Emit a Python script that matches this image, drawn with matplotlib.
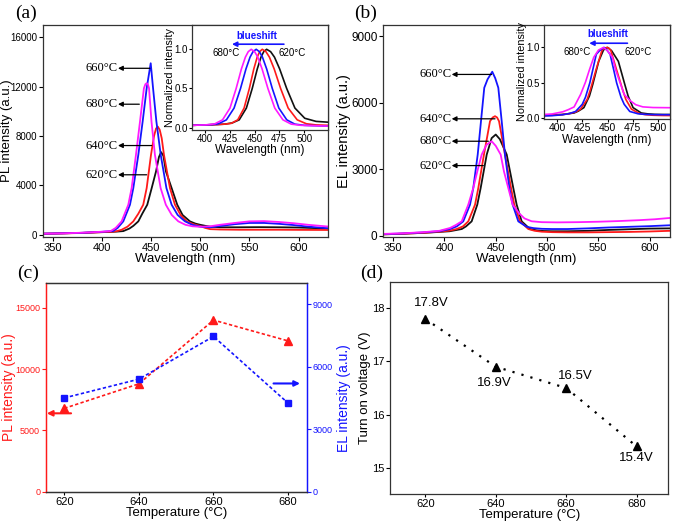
import matplotlib
matplotlib.use("Agg")
import matplotlib.pyplot as plt
import numpy as np

plt.rcParams['font.family'] = ['Liberation Sans', 'DejaVu Sans']
NARROW = ['Liberation Sans Narrow', 'Liberation Sans', 'DejaVu Sans']
SERIF = ['Liberation Serif', 'DejaVu Serif']

BLUE = '#1414ff'
RED = '#ff1a1a'
MAG = '#ff1aff'
BLK = '#111111'

# ---------------- (a) PL spectra ----------------
wl_a_620 = [340, 360, 380, 400, 410, 415, 421.7, 428, 432, 437, 441, 446.1, 450.6, 455, 458, 460.2, 462.5, 465.1, 470.9, 476.6, 482, 489.5, 495, 500, 505, 510, 520, 540, 560, 580, 600, 615, 630]
pl_620 = [80, 110, 150, 210, 230, 250, 290, 500, 720, 1080, 1700, 2428, 3777, 5126, 6300, 6690, 6400, 5126, 3777, 2428, 1600, 1080, 900, 800, 720, 650, 600, 600, 610, 600, 580, 540, 500]

wl_a_640 = [340, 360, 380, 400, 410, 415, 420, 426, 431.9, 437, 442, 445.5, 449.9, 453, 455, 456.8, 458.8, 460.8, 463.1, 469.2, 474.3, 480, 486.2, 493, 500, 505, 510, 520, 540, 560, 580, 600, 630]
pl_640 = [70, 100, 140, 200, 240, 280, 400, 650, 1080, 1700, 2428, 3777, 6474, 8000, 8600, 8766, 8500, 7823, 6474, 3777, 2428, 1600, 1080, 850, 700, 550, 450, 420, 400, 400, 400, 390, 380]

wl_a_660 = [340, 360, 380, 400, 411.5, 416, 421.7, 428.5, 431.9, 437, 441.4, 445.5, 449.6, 452, 455.4, 459.8, 465.6, 470.9, 477, 484.5, 492, 500, 510, 520, 535, 550, 565, 580, 595, 610, 630]
pl_660 = [80, 110, 150, 230, 300, 550, 1080, 2428, 3777, 6474, 9170, 11870, 13900, 11870, 9170, 6474, 3777, 2428, 1600, 1080, 800, 650, 600, 700, 850, 950, 950, 880, 780, 650, 520]

wl_a_680 = [340, 360, 380, 400, 409, 414, 420, 426.8, 430.2, 434.6, 438.7, 442.7, 444.2, 445.5, 446.7, 447.9, 450.4, 453.9, 459.7, 465, 471, 477.7, 485, 492, 500, 510, 520, 535, 550, 565, 580, 595, 610, 630]
pl_680 = [80, 110, 160, 240, 300, 550, 1080, 2428, 3777, 6474, 9170, 11870, 12200, 12280, 12200, 11870, 9170, 6474, 3777, 2428, 1600, 1080, 800, 680, 640, 680, 800, 950, 1080, 1100, 1030, 930, 800, 660]

# inset (a): normalized PL as drawn in the inset
ins_wl_620 = [387, 400, 412, 420, 427.4, 434.6, 441.8, 447.7, 452.8, 456.5, 459.3, 462.2, 466.2, 470.1, 475.3, 482.4, 490.7, 500.6, 512, 524]
ins_pl_620 = [0.03, 0.035, 0.04, 0.045, 0.06, 0.1, 0.25, 0.5, 0.75, 0.9, 0.97, 1.0, 0.97, 0.9, 0.75, 0.5, 0.25, 0.12, 0.08, 0.07]
ins_wl_640 = [387, 400, 412, 420, 426.6, 433.1, 439.5, 444.8, 449.3, 452.7, 455.2, 457.8, 461.5, 465, 469.8, 476.3, 483.9, 493, 502.2, 512, 524]
ins_pl_640 = [0.03, 0.035, 0.04, 0.045, 0.055, 0.1, 0.25, 0.5, 0.75, 0.9, 0.97, 1.0, 0.97, 0.9, 0.75, 0.5, 0.25, 0.1, 0.05, 0.035, 0.03]
ins_wl_660 = [387, 400, 408, 413.8, 421.7, 429.4, 435.9, 441.4, 445.5, 448.5, 451.7, 454.9, 458, 462.2, 467.9, 474.5, 482.5, 490.6, 500, 512, 524]
ins_pl_660 = [0.03, 0.035, 0.04, 0.05, 0.1, 0.25, 0.5, 0.75, 0.9, 0.97, 1.0, 0.97, 0.9, 0.75, 0.5, 0.25, 0.1, 0.045, 0.03, 0.025, 0.02]
ins_wl_680 = [387, 400, 405, 410.2, 417.8, 425.3, 431.5, 436.8, 440.8, 443.7, 446.7, 450.1, 453.3, 457.6, 463.5, 470.4, 478.6, 487, 497, 510, 524]
ins_pl_680 = [0.03, 0.035, 0.04, 0.05, 0.1, 0.25, 0.5, 0.75, 0.9, 0.97, 1.0, 0.97, 0.9, 0.75, 0.5, 0.25, 0.1, 0.045, 0.03, 0.025, 0.02]

# ---------------- (b) EL spectra ----------------
wl_b_620 = [340, 360, 380, 395, 405, 416.8, 421, 426.5, 432, 435.3, 441.2, 446, 450, 454, 460.7, 467.1, 470.4, 475.3, 483.4, 490, 497, 505, 520, 540, 560, 580, 600, 620]
el_620 = [60, 90, 130, 170, 200, 300, 420, 646, 1400, 2154, 3658, 4400, 4561, 4350, 3658, 2154, 1400, 646, 300, 240, 210, 200, 200, 220, 260, 290, 320, 330]

wl_b_640 = [340, 360, 380, 395, 405, 411.9, 418, 423.2, 429.8, 433, 438.5, 444.4, 447, 449.3, 451.3, 453.2, 459, 464.9, 468.1, 473.7, 481.8, 488, 495, 505, 520, 540, 560, 580, 600, 620]
el_640 = [60, 90, 130, 180, 230, 300, 420, 646, 1400, 2154, 3658, 5162, 5330, 5388, 5330, 5162, 3658, 2154, 1400, 646, 300, 220, 180, 160, 150, 150, 160, 170, 190, 220]

wl_b_660 = [340, 360, 380, 395, 405.4, 412, 418.3, 424.9, 428.1, 432.4, 435.6, 438.8, 442, 446.6, 449.5, 452.5, 455.8, 459, 463.3, 466.5, 472, 480.2, 487, 495, 505, 520, 540, 560, 580, 600, 620]
el_660 = [70, 100, 150, 200, 300, 420, 646, 1400, 2154, 3658, 5162, 6670, 7050, 7393, 7100, 6670, 5162, 3658, 2154, 1400, 646, 400, 340, 310, 300, 300, 330, 370, 400, 430, 470]

wl_b_680 = [340, 360, 380, 395, 405.4, 411, 416.8, 423.2, 428.1, 432, 436.3, 441, 446, 450, 454.8, 458, 462.2, 466.5, 473, 478, 485, 495, 510, 530, 550, 570, 590, 605, 620]
el_680 = [80, 110, 160, 220, 348, 480, 646, 1400, 2154, 2900, 3658, 4100, 4259, 4050, 3658, 2900, 2154, 1400, 1000, 780, 650, 610, 600, 610, 630, 660, 700, 740, 800]

# ---------------- (c) peak intensity vs temperature ----------------
temps = [620, 640, 660, 680]
pl_peak = [6800, 8800, 14000, 12300]
el_peak = [4500, 5400, 7450, 4250]

# ---------------- (d) turn-on voltage ----------------
von = [17.8, 16.9, 16.5, 15.4]
von_labels = ['17.8V', '16.9V', '16.5V', '15.4V']

fig = plt.figure(figsize=(6.75, 5.23), dpi=100)
ax_a = fig.add_axes([0.0637, 0.5468, 0.4222, 0.4054])
ax_b = fig.add_axes([0.5674, 0.5468, 0.4252, 0.4054])
ax_c = fig.add_axes([0.0677, 0.0599, 0.3867, 0.3984])
ax_d = fig.add_axes([0.5778, 0.0549, 0.4123, 0.4065])
ins_a = fig.add_axes([0.2844, 0.7514, 0.2015, 0.2008])
ins_b = fig.add_axes([0.806, 0.7725, 0.1867, 0.1797])

def style(ax, tsize=8):
    ax.tick_params(direction='out', length=3, width=0.8, labelsize=tsize, pad=1)
    for s in ax.spines.values():
        s.set_linewidth(0.9)
        s.set_color('#333333')

def narrow_ticks(ax, axis, size):
    labs = ax.get_yticklabels() if axis == 'y' else ax.get_xticklabels()
    for t in labs:
        t.set_family(NARROW)
        t.set_fontsize(size)

series_a = [(wl_a_620, pl_620, BLK), (wl_a_640, pl_640, RED), (wl_a_660, pl_660, BLUE), (wl_a_680, pl_680, MAG)]
series_b = [(wl_b_620, el_620, BLK), (wl_b_640, el_640, RED), (wl_b_660, el_660, BLUE), (wl_b_680, el_680, MAG)]
series_ia = [(ins_wl_620, ins_pl_620, BLK), (ins_wl_640, ins_pl_640, RED), (ins_wl_660, ins_pl_660, BLUE), (ins_wl_680, ins_pl_680, MAG)]

for w, v, c in series_a:
    ax_a.plot(w, v, color=c, lw=1.3)
for w, v, c in series_ia:
    ins_a.plot(w, v, color=c, lw=1.2)
for w, v, c in series_b:
    ax_b.plot(w, v, color=c, lw=1.3)
    v = np.asarray(v, float)
    ins_b.plot(w, v / v.max(), color=c, lw=1.2)

# (a)
style(ax_a)
ax_a.set_xlim(340, 630)
ax_a.set_ylim(-190, 17000)
ax_a.set_xticks([350, 400, 450, 500, 550, 600])
ax_a.set_yticks([0, 4000, 8000, 12000, 16000])
narrow_ticks(ax_a, 'y', 7)
ax_a.set_xlabel('Wavelength (nm)', fontsize=9.5)
ax_a.set_ylabel('PL intensity (a.u.)', fontsize=9.5)
ax_a.xaxis.set_label_coords(0.5, -0.074)
ax_a.yaxis.set_label_coords(-0.106, 0.5)

ann_a = [('660°C', 13490, 448.8), ('680°C', 10578, 438.0), ('640°C', 7227, 450.6), ('620°C', 4856, 445.5)]
for lab, y, xt in ann_a:
    ax_a.annotate('', xy=(416.3, y), xytext=(xt, y),
                  arrowprops=dict(arrowstyle='-|>', color='black', lw=0.9, mutation_scale=7, shrinkA=0, shrinkB=0))
    ax_a.text(416.0, y, lab, ha='right', va='center', fontsize=9, family=SERIF)

# (b)
style(ax_b)
ax_b.set_xlim(340, 620)
ax_b.set_ylim(-60, 9500)
ax_b.set_xticks([350, 400, 450, 500, 550, 600])
ax_b.set_yticks([0, 3000, 6000, 9000])
ax_b.tick_params(axis='y', labelsize=8.5)
ax_b.set_xlabel('Wavelength (nm)', fontsize=9.5)
ax_b.set_ylabel('EL intensity (a.u.)', fontsize=10.5)
ax_b.xaxis.set_label_coords(0.5, -0.074)
ax_b.yaxis.set_label_coords(-0.113, 0.5)

ann_b = [('660°C', 7271, 446.0), ('640°C', 5270, 449.3), ('680°C', 4259, 442.8), ('620°C', 3161, 437.9)]
for lab, y, xt in ann_b:
    ax_b.annotate('', xy=(407.0, y), xytext=(xt, y),
                  arrowprops=dict(arrowstyle='-|>', color='black', lw=0.9, mutation_scale=7, shrinkA=0, shrinkB=0))
    ax_b.text(406.5, y, lab, ha='right', va='center', fontsize=9, family=SERIF)

# insets
for ins, xl, yl, bs, arr, l680, l620, xlc, ylc, ts in [
        (ins_a, (387, 524), (-0.03, 1.31), (452.7, 1.17), (479.6, 427.3, 1.065), (421.3, 0.95), (487.5, 0.95), -0.135, -0.125, 7),
        (ins_b, (387, 512), (-0.02, 1.32), (450.0, 1.19), (469.7, 431.8, 1.06), (419.7, 0.935), (480.5, 0.935), -0.16, -0.135, 7.5)]:
    style(ins, ts)
    ins.tick_params(length=2, pad=1)
    ins.set_xlim(*xl)
    ins.set_ylim(*yl)
    ins.set_xticks([400, 425, 450, 475, 500])
    ins.set_yticks([0.0, 0.5, 1.0])
    ins.set_yticklabels(['0.0', '0.5', '1.0'])
    narrow_ticks(ins, 'y', 7)
    ins.set_xlabel('Wavelength (nm)', fontsize=8.5)
    ins.set_ylabel('Normalized intensity', fontsize=7.8)
    ins.xaxis.set_label_coords(0.5, xlc)
    ins.yaxis.set_label_coords(ylc, 0.5)
    ins.text(bs[0], bs[1], 'blueshift', color=BLUE, fontsize=7, fontweight='bold', ha='center', va='center')
    ins.annotate('', xy=(arr[1], arr[2]), xytext=(arr[0], arr[2]),
                 arrowprops=dict(arrowstyle='-|>', color=BLUE, lw=1.2, mutation_scale=7, shrinkA=0, shrinkB=0))
    ins.text(l680[0], l680[1], '680°C', fontsize=7, ha='center', va='center')
    ins.text(l620[0], l620[1], '620°C', fontsize=7, ha='center', va='center')

# (c)
style(ax_c, 7)
ax_c.set_xlim(615, 685)
ax_c.set_ylim(0, 17000)
ax_c.set_xticks(temps)
ax_c.tick_params(axis='x', labelsize=8, length=2.5)
ax_c.set_yticks([0, 5000, 10000, 15000])
narrow_ticks(ax_c, 'y', 6.5)
ax_c.plot(temps, pl_peak, color=RED, linestyle=(0, (2, 1.4)), lw=1.2, marker='^', markersize=5.5)
ax_c.set_ylabel('PL intensity (a.u.)', color=RED, fontsize=10)
ax_c.tick_params(axis='y', colors=RED)
ax_c.set_xlabel('Temperature (°C)', fontsize=9.5)
ax_c.xaxis.set_label_coords(0.5, -0.072)
ax_c.yaxis.set_label_coords(-0.112, 0.5)
ax_c2 = ax_c.twinx()
style(ax_c2, 7)
ax_c2.set_ylim(0, 10000)
ax_c2.set_yticks([0, 3000, 6000, 9000])
narrow_ticks(ax_c2, 'y', 6.5)
ax_c2.plot(temps, el_peak, color=BLUE, linestyle=(0, (2, 1.4)), lw=1.2, marker='s', markersize=4.5)
ax_c2.tick_params(axis='y', colors=BLUE)
ax_c2.set_ylabel('EL intensity (a.u.)', color=BLUE, fontsize=10)
ax_c2.yaxis.set_label_coords(1.115, 0.45)
ax_c2.spines['left'].set_color(RED)
ax_c2.spines['right'].set_color(BLUE)
ax_c.spines['left'].set_color(RED)
ax_c.spines['right'].set_color(BLUE)
ax_c.annotate('', xy=(615.3, 6393), xytext=(621.8, 6393),
              arrowprops=dict(arrowstyle='-|>', color=RED, lw=1.5, mutation_scale=8, shrinkA=0, shrinkB=0))
ax_c.annotate('', xy=(683.2, 8828), xytext=(676.1, 8828),
              arrowprops=dict(arrowstyle='-|>', color=BLUE, lw=1.5, mutation_scale=8, shrinkA=0, shrinkB=0))

# (d)
style(ax_d, 8)
ax_d.tick_params(axis='x', length=2.5)
ax_d.set_xlim(610, 689)
ax_d.set_ylim(14.5, 18.5)
ax_d.set_xticks(temps)
ax_d.set_yticks([15, 16, 17, 18])
ax_d.plot(temps, von, color='black', linestyle=(0, (1, 3.2)), lw=1.6, marker='^', markersize=6)
ax_d.set_xlabel('Temperature (°C)', fontsize=9.5)
ax_d.set_ylabel('Turn on voltage (V)', fontsize=9.5)
ax_d.xaxis.set_label_coords(0.5, -0.07)
ax_d.yaxis.set_label_coords(-0.068, 0.5)
offs = [(1.8, 0.3), (-0.4, -0.31), (2.7, 0.22), (0.0, -0.22)]
for t, v, lab, (dx, dy) in zip(temps, von, von_labels, offs):
    ax_d.text(t + dx, v + dy, lab, fontsize=9.5, ha='center', va='center')

# panel letters
for x, y, s in [(0.022, 0.975, '(a)'), (0.525, 0.975, '(b)'), (0.025, 0.477, '(c)'), (0.533, 0.477, '(d)')]:
    fig.text(x, y, s, fontsize=14, family=SERIF, ha='left', va='center')

fig.savefig('out.png', dpi=100)
